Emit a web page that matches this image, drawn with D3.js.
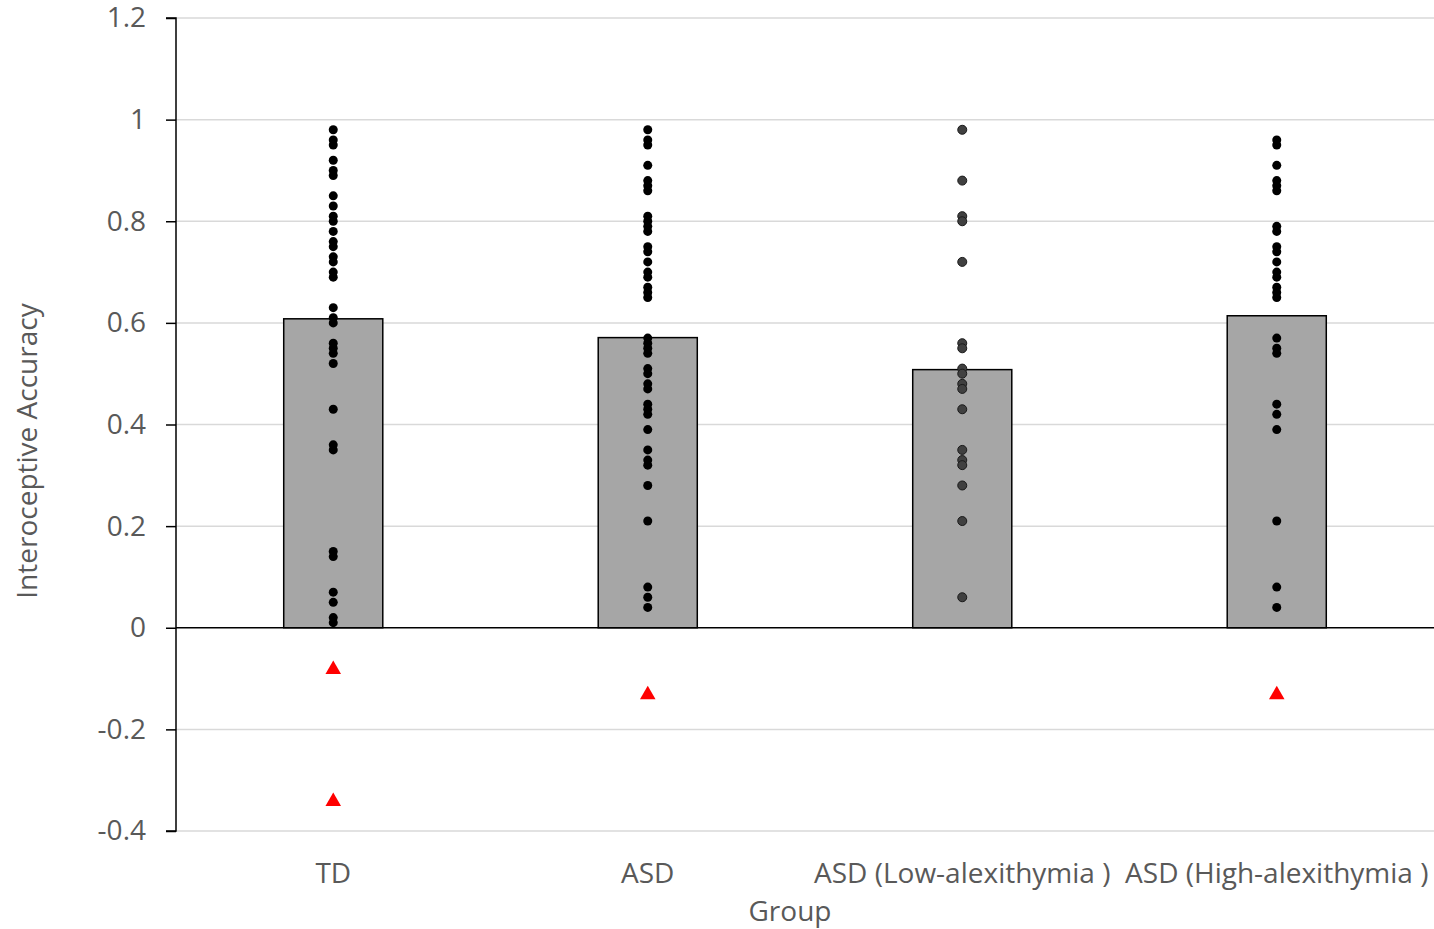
<!DOCTYPE html>
<html><head><meta charset="utf-8">
<script src="https://cdn.jsdelivr.net/npm/d3@7"></script>
<style>body{margin:0;background:#fff}svg{display:block}</style>
</head><body><svg id="c" width="1434" height="929"></svg>
<script>
const categories = ["TD", "ASD", "ASD (Low-alexithymia )", "ASD (High-alexithymia )"];
const means = [0.608, 0.571, 0.508, 0.614];
const tdPoints = [0.98,0.96,0.95,0.92,0.90,0.89,0.85,0.83,0.81,0.80,0.78,0.76,0.75,0.73,0.72,0.70,0.69,0.63,0.61,0.60,0.56,0.55,0.54,0.52,0.43,0.36,0.35,0.15,0.14,0.07,0.05,0.02,0.01];
const asdPoints = [0.98,0.96,0.95,0.91,0.88,0.87,0.86,0.81,0.80,0.79,0.78,0.75,0.74,0.72,0.70,0.69,0.67,0.66,0.65,0.57,0.56,0.55,0.54,0.51,0.50,0.48,0.47,0.44,0.43,0.42,0.39,0.35,0.33,0.32,0.28,0.21,0.08,0.06,0.04];
const lowPoints = [0.98,0.88,0.81,0.80,0.72,0.56,0.55,0.51,0.50,0.48,0.47,0.43,0.35,0.33,0.32,0.28,0.21,0.06];
const highPoints = [0.96,0.95,0.91,0.88,0.87,0.86,0.79,0.78,0.75,0.74,0.72,0.70,0.69,0.67,0.66,0.65,0.57,0.55,0.54,0.44,0.42,0.39,0.21,0.08,0.04];
const outliers = [[-0.08,-0.34],[-0.13],[],[-0.13]];
const yTicks = [-0.4,-0.2,0,0.2,0.4,0.6,0.8,1,1.2];
const yTickLabels = ["-0.4","-0.2","0","0.2","0.4","0.6","0.8","1","1.2"];
const yTitle = "Interoceptive Accuracy";
const xTitle = "Group";

const pointSets = [tdPoints, asdPoints, lowPoints, highPoints];
const svg = d3.select("#c");
const L = 176, R = 1434, T = 18, B = 831;
const FONT = "Open Sans, sans-serif";
const FS = 28;
const x = d3.scaleBand().domain(categories).range([L, R]).padding(0);
const y = d3.scaleLinear().domain([-0.4, 1.2]).range([B, T]);

// gridlines
svg.append("g").selectAll("line").data(yTicks.filter(d => d !== 0)).join("line")
  .attr("x1", L).attr("x2", R).attr("y1", d => y(d)).attr("y2", d => y(d))
  .attr("stroke", "#d9d9d9").attr("stroke-width", 1.5);

// y axis
const yAxis = d3.axisLeft(y).tickValues(yTicks).tickSize(10).tickPadding(20)
  .tickFormat((d, i) => yTickLabels[i]);
const ga = svg.append("g").attr("transform", `translate(${L},0)`).call(yAxis);
ga.select(".domain").attr("stroke", "#000").attr("stroke-width", 1.5).attr("d", `M-10,${T}H0V${B}H-10`);
ga.selectAll(".tick line").attr("stroke", "#000").attr("stroke-width", 1.5);
ga.selectAll(".tick text").attr("font-family", FONT).attr("font-size", FS).attr("fill", "#595959");

// bars
const bw = x.bandwidth() * 0.315;
svg.append("g").selectAll("rect").data(categories).join("rect")
  .attr("x", d => x(d) + x.bandwidth() / 2 - bw / 2)
  .attr("width", bw)
  .attr("y", (d, i) => y(means[i]))
  .attr("height", (d, i) => y(0) - y(means[i]))
  .attr("fill", "#a6a6a6").attr("stroke", "#000").attr("stroke-width", 1.5);

// zero line
svg.append("line").attr("x1", L).attr("x2", R).attr("y1", y(0)).attr("y2", y(0))
  .attr("stroke", "#000").attr("stroke-width", 1.5);

// points
categories.forEach((c, i) => {
  const cx = x(c) + x.bandwidth() / 2;
  svg.append("g").selectAll("circle").data(pointSets[i]).join("circle")
    .attr("cx", cx).attr("cy", d => y(d)).attr("r", 4.5)
    .attr("fill", i === 2 ? "#404040" : "#000")
    .attr("stroke", i === 2 ? "#1a1a1a" : "none").attr("stroke-width", 1);
  svg.append("g").selectAll("path").data(outliers[i]).join("path")
    .attr("transform", d => `translate(${cx},${y(d) + 1})`)
    .attr("d", d3.symbol(d3.symbolTriangle, 105))
    .attr("fill", "#ff0000");
});

// category labels
svg.append("g").selectAll("text").data(categories).join("text")
  .attr("x", d => x(d) + x.bandwidth() / 2).attr("y", 883)
  .attr("text-anchor", "middle").attr("font-family", FONT).attr("font-size", FS)
  .attr("fill", "#595959").text(d => d);

svg.append("text").attr("x", 790).attr("y", 921).attr("text-anchor", "middle")
  .attr("font-family", FONT).attr("font-size", FS).attr("fill", "#595959").text(xTitle);

svg.append("text").attr("transform", "translate(37,451) rotate(-90)")
  .attr("text-anchor", "middle").attr("font-family", FONT).attr("font-size", FS)
  .attr("fill", "#595959").text(yTitle);
</script></body></html>
